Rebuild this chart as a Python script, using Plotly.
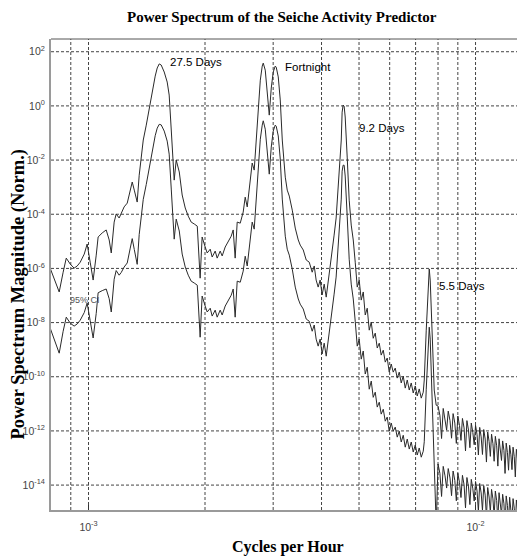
import plotly.graph_objects as go

# Frequency in milli-cycles per hour (x 1e-3 cycles/hour)
freq_mcph = [
    0.796, 0.820, 0.840, 0.860, 0.876, 0.897, 0.918, 0.935, 0.952, 0.975,
    0.992, 1.010, 1.028, 1.047, 1.059, 1.085, 1.111, 1.131, 1.145, 1.165,
    1.179, 1.200, 1.215, 1.236, 1.259, 1.282, 1.297, 1.313, 1.336, 1.352,
    1.368, 1.385, 1.410, 1.435, 1.461, 1.487, 1.505, 1.523, 1.541, 1.569,
    1.597, 1.616, 1.636, 1.655, 1.665, 1.685, 1.716, 1.746, 1.778, 1.810,
    1.842, 1.876, 1.910, 1.943, 1.966, 2.002, 2.026, 2.063, 2.087, 2.125,
    2.150, 2.189, 2.215, 2.255, 2.296, 2.337, 2.365, 2.393, 2.422, 2.466,
    2.510, 2.540, 2.571, 2.617, 2.648, 2.680, 2.713, 2.745, 2.779, 2.811,
    2.828, 2.862, 2.896, 2.931, 2.966, 3.001, 3.037, 3.055, 3.092, 3.129,
    3.167, 3.224, 3.262, 3.302, 3.361, 3.421, 3.483, 3.524, 3.588, 3.652,
    3.718, 3.784, 3.830, 3.874, 3.921, 3.968, 4.014, 4.064, 4.113, 4.160,
    4.212, 4.263, 4.311, 4.363, 4.391, 4.444, 4.498, 4.522, 4.549, 4.576,
    4.605, 4.660, 4.687, 4.716, 4.773, 4.831, 4.888, 4.947, 5.005, 5.066,
    5.127, 5.188, 5.250, 5.313, 5.377, 5.440, 5.506, 5.572, 5.639, 5.705,
    5.775, 5.844, 5.913, 5.984, 6.056, 6.128, 6.202, 6.276, 6.351, 6.427,
    6.504, 6.582, 6.661, 6.741, 6.821, 6.902, 6.986, 7.069, 7.153, 7.240,
    7.326, 7.370, 7.458, 7.546, 7.592, 7.636, 7.682, 7.728, 7.774, 7.821,
    7.913,
    8.00, 8.09, 8.17, 8.25, 8.34, 8.42, 8.50, 8.59, 8.67, 8.75, 8.84, 8.92,
    9.00, 9.09, 9.17, 9.25, 9.34, 9.42, 9.50, 9.59, 9.67, 9.75, 9.84, 9.92,
    10.00, 10.09, 10.17, 10.25, 10.34, 10.42, 10.50, 10.59, 10.67, 10.75, 10.84, 10.92,
    11.00, 11.09, 11.17, 11.25, 11.34, 11.42, 11.50, 11.59, 11.67, 11.75, 11.84, 11.92,
    12.00, 12.09, 12.17, 12.25, 12.34, 12.42, 12.50, 12.59, 12.67, 12.75, 12.84, 12.92,
    13.00, 13.09, 13.17, 13.25, 13.34, 13.42,
]

# log10 of normalised power spectrum magnitude
spectrum_log10 = [
    -5.99, -6.50, -6.87, -6.14, -5.62, -5.84, -5.99, -5.91, -5.77, -5.47,
    -5.10, -5.77, -6.43, -5.51, -4.84, -4.69, -4.58, -4.95, -5.43, -4.29,
    -3.99, -4.14, -3.99, -3.73, -3.59, -3.11, -2.81, -3.11, -3.55, -2.56,
    -1.81, -1.26, -0.71, -0.08, 0.59, 1.10, 1.40, 1.55, 1.51, 1.25,
    0.88, 0.40, -0.89, -2.19, -2.74, -2.00, -2.44, -3.29, -3.77, -4.07,
    -4.29, -4.36, -4.44, -6.36, -4.84, -5.21, -5.43, -5.29, -5.58, -5.36,
    -5.62, -5.36, -5.54, -5.21, -5.03, -4.81, -4.58, -5.62, -4.29, -4.33,
    -3.92, -3.37, -3.73, -2.85, -2.11, -2.37, -1.26, -0.15, 0.95, 1.47,
    1.58, 1.32, 0.33, -0.34, 0.66, 1.25, 1.47, 1.43, 1.07, 0.22,
    -1.26, -2.63, -3.11, -3.33, -3.85, -4.51, -4.95, -5.14, -5.32, -5.69,
    -5.77, -6.14, -5.91, -6.43, -6.69, -6.43, -6.98, -6.58, -7.06, -6.54,
    -5.77, -5.25, -4.77, -4.14, -3.48, -2.48, -1.26, -0.23, 0.03, -0.01,
    -0.41, -1.89, -2.74, -3.48, -4.40, -4.95, -5.77, -6.69, -6.43, -7.17,
    -6.87, -7.72, -7.47, -8.28, -7.98, -8.58, -8.39, -8.94, -8.76, -9.20,
    -9.02, -9.46, -9.31, -9.83, -9.53, -9.83, -9.68, -10.05, -9.83, -10.23,
    -9.98, -10.42, -10.12, -10.49, -10.23, -10.60, -10.34, -10.71, -10.45, -10.79,
    -10.57, -10.12, -8.28, -6.58, -6.02, -6.43, -7.54, -8.65, -9.75, -10.49,
    -11.05,
    -11.08, -11.43, -12.28, -11.17, -11.52, -11.97, -11.27, -11.62, -12.27,
    -11.36, -11.71, -12.46, -11.45, -11.80, -12.35, -11.54, -11.89, -12.74,
    -11.62, -11.97, -12.62, -11.71, -12.06, -12.51, -11.79, -12.14, -12.89,
    -11.87, -12.22, -12.87, -11.95, -12.30, -13.15, -12.04, -12.39, -12.94,
    -12.12, -12.47, -13.12, -12.20, -12.55, -13.30, -12.29, -12.64, -13.09,
    -12.37, -12.72, -13.57, -12.45, -12.80, -13.45, -12.53, -12.88, -13.43,
    -12.60, -12.95, -13.70, -12.68, -13.03, -13.68, -12.75, -13.10, -13.65,
    -12.83, -13.18, -13.83,
]

# log10 of the 95% confidence-interval curve
ci95_log10 = [
    -8.20, -8.68, -9.13, -8.32, -7.80, -8.02, -8.13, -8.05, -7.91, -7.63,
    -7.28, -7.93, -8.57, -7.66, -6.90, -6.82, -6.76, -7.12, -7.61, -6.40,
    -6.08, -6.25, -6.15, -5.95, -5.80, -5.25, -4.90, -5.30, -5.85, -4.75,
    -4.00, -3.45, -2.90, -2.28, -1.60, -1.10, -0.82, -0.68, -0.70, -0.93,
    -1.30, -1.78, -3.07, -4.37, -4.92, -4.18, -4.62, -5.47, -5.95, -6.25,
    -6.47, -6.54, -6.62, -8.54, -7.02, -7.39, -7.61, -7.47, -7.76, -7.54,
    -7.80, -7.54, -7.72, -7.39, -7.21, -6.99, -6.76, -7.80, -6.47, -6.51,
    -6.10, -5.55, -5.91, -5.03, -4.29, -4.55, -3.44, -2.33, -1.23, -0.71,
    -0.55, -0.86, -1.85, -2.52, -1.52, -0.93, -0.71, -0.75, -1.11, -1.96,
    -3.44, -4.81, -5.29, -5.51, -6.03, -6.69, -7.13, -7.32, -7.50, -7.87,
    -7.95, -8.32, -8.09, -8.61, -8.87, -8.61, -9.16, -8.76, -9.24, -8.72,
    -7.95, -7.43, -6.95, -6.32, -5.66, -4.66, -3.44, -2.41, -2.19, -2.19,
    -2.59, -4.07, -4.92, -5.66, -6.58, -7.13, -7.95, -8.87, -8.61, -9.35,
    -9.05, -9.90, -9.65, -10.46, -10.16, -10.76, -10.57, -11.12, -10.94, -11.38,
    -11.20, -11.64, -11.49, -12.01, -11.71, -12.01, -11.86, -12.23, -12.01, -12.41,
    -12.16, -12.60, -12.30, -12.67, -12.41, -12.78, -12.52, -12.89, -12.63, -12.97,
    -12.75, -12.40, -10.46, -8.76, -8.17, -8.61, -9.72, -10.83, -11.93, -12.80,
    -15.50,
    -13.22, -13.57, -14.42, -13.31, -13.66, -14.11, -13.39, -13.74, -14.39,
    -13.48, -13.83, -14.58, -13.56, -13.91, -14.46, -13.64, -13.99, -14.84,
    -13.72, -14.07, -14.72, -13.79, -14.14, -14.59, -13.87, -14.22, -14.97,
    -13.94, -14.29, -14.94, -14.02, -14.37, -15.22, -14.09, -14.44, -14.99,
    -14.16, -14.51, -15.16, -14.22, -14.57, -15.32, -14.28, -14.63, -15.08,
    -14.34, -14.69, -15.54, -14.40, -14.75, -15.40, -14.45, -14.80, -15.35,
    -14.50, -14.85, -15.60, -14.55, -14.90, -15.65, -14.60, -14.95, -15.50,
    -14.64, -14.99, -15.64,
]

x_grid_vals = [0.0009, 0.001, 0.002, 0.003, 0.004, 0.005, 0.006, 0.007, 0.008, 0.009, 0.01]
x_tick_vals = [0.001, 0.01]
x_tick_text = ["10<sup>-3</sup>", "10<sup>-2</sup>"]
y_tick_exps = [-14, -12, -10, -8, -6, -4, -2, 0, 2]

peak_labels = ["27.5 Days", "Fortnight", "9.2 Days", "5.5 Days"]
ci_label = "95% CI"

freq = [f * 1e-3 for f in freq_mcph]
spectrum = [10 ** v for v in spectrum_log10]
ci95 = [10 ** v for v in ci95_log10]
y_tick_vals = [10.0 ** e for e in y_tick_exps]

line_color = "#2a2a2a"
fig = go.Figure()
fig.add_trace(go.Scatter(x=freq, y=spectrum, mode="lines",
                         line=dict(color=line_color, width=1), showlegend=False))
fig.add_trace(go.Scatter(x=freq, y=ci95, mode="lines",
                         line=dict(color=line_color, width=1), showlegend=False))

sans = "Liberation Sans, Arial, sans-serif"
serif = "Liberation Serif, Times New Roman, serif"
grid_style = dict(color="#444", width=1, dash="3px,2px")

shapes = []
for v in x_grid_vals:
    shapes.append(dict(type="line", xref="x", yref="paper", x0=v, x1=v, y0=0, y1=1,
                       line=grid_style, layer="below"))
for v in y_tick_vals:
    shapes.append(dict(type="line", xref="paper", yref="y", x0=0, x1=1, y0=v, y1=v,
                       line=grid_style, layer="below"))
shapes.append(dict(type="line", xref="paper", yref="paper", x0=0, x1=1, y0=1, y1=1,
                   line=dict(color="#555", width=1)))

# The page body has an 8px default margin, so the figure is drawn 8px in from the window corner.
fig.update_layout(
    width=517, height=552,
    margin=dict(l=43, r=1, t=31, b=50, autoexpand=False),
    paper_bgcolor="white", plot_bgcolor="white",
    xaxis=dict(type="log", range=[-3.0969, -1.8748], automargin=False,
               tickmode="array", tickvals=x_tick_vals, ticktext=x_tick_text,
               showgrid=False,
               showline=True, linecolor="#9a9a9a", linewidth=2,
               ticks="inside", ticklen=5, tickcolor="#333", tickwidth=1,
               ticklabelstandoff=6,
               tickfont=dict(family=sans, size=10.5, color="#444"),
               zeroline=False),
    yaxis=dict(type="log", range=[-14.92, 2.47], automargin=False,
               tickmode="array",
               tickvals=y_tick_vals,
               ticktext=["10<sup>%d</sup>" % e for e in y_tick_exps],
               showgrid=False,
               showline=True, linecolor="#9a9a9a", linewidth=2,
               ticks="", ticklabelstandoff=2,
               tickfont=dict(family=sans, size=10.5, color="#444"),
               zeroline=False),
    shapes=shapes,
)

ann = []
ann.append(dict(text="<b>Power Spectrum of the Seiche Activity Predictor</b>",
                xref="paper", yref="paper", x=0.4884, y=1.0467,
                xanchor="center", yanchor="middle", showarrow=False,
                font=dict(family=serif, size=15, color="black")))
ann.append(dict(text="<b>Cycles per Hour</b>", xref="paper", yref="paper",
                x=0.5, y=-0.0786, xanchor="center", yanchor="middle", showarrow=False,
                font=dict(family=serif, size=16, color="black")))
ann.append(dict(text="<b>Power Spectrum Magnitude (Norm.)</b>", xref="paper", yref="paper",
                x=-0.0687, y=0.4565, xanchor="center", yanchor="middle", showarrow=False,
                textangle=-90, font=dict(family=serif, size=18.5, color="black")))

label_pos = [(0.2474, 0.9512), (0.4905, 0.9406), (0.6469, 0.8110), (0.8161, 0.4756)]
for txt, (px, py) in zip(peak_labels, label_pos):
    ann.append(dict(text=txt, xref="paper", yref="paper", x=px, y=py,
                    xanchor="left", yanchor="middle", showarrow=False,
                    font=dict(family=sans, size=11.5, color="black")))
ann.append(dict(text=ci_label, xref="paper", yref="paper", x=0.0359, y=0.4459,
                xanchor="left", yanchor="middle", showarrow=False,
                font=dict(family=sans, size=9, color="#555")))
fig.update_layout(annotations=ann)

fig.write_html("out.html")
